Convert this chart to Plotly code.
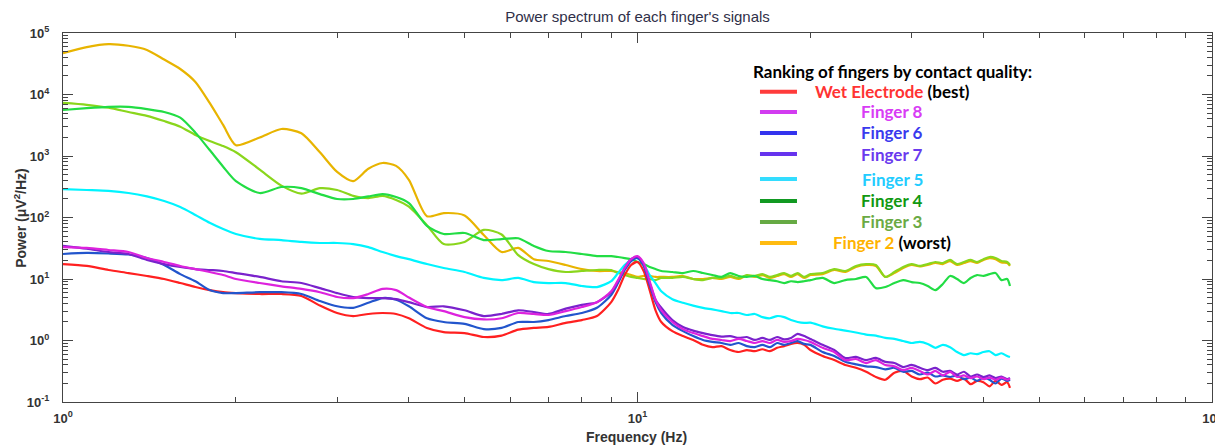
import plotly.graph_objects as go

# ---------------- data ----------------
freq = [1.0, 1.1, 1.2, 1.3, 1.4, 1.5, 1.6, 1.7, 1.8, 1.9, 2.0,
        2.2, 2.4, 2.6, 2.8, 3.0, 3.2, 3.4, 3.6, 3.8, 4.0,
        4.3, 4.6, 5.0, 5.4, 5.8, 6.2, 6.6, 7.0, 7.5, 8.0, 8.5, 9.0,
        9.25, 9.5, 9.75, 10.0, 10.25, 10.5, 10.75,
        11.0, 11.5, 12.0, 12.5, 13.0, 13.5, 14.0, 14.5, 15.0, 15.5, 16.0, 16.5, 17.0, 17.5, 18.0, 18.5, 19.0, 19.5,
        20, 21, 22, 23, 24, 25, 26, 27, 28, 29, 30, 31, 32, 33, 34, 35, 36, 37, 38, 39, 40, 41, 42, 43, 44, 44.5]

wet_electrode = [17.5, 16.3, 14, 12.5, 11.2, 10, 8.6, 7.4, 6.6, 6.1, 5.9,
                 5.7, 5.7, 5.3, 3.7, 2.8, 2.5, 2.7, 2.8, 2.7, 2.3,
                 1.6, 1.37, 1.32, 1.14, 1.2, 1.5, 1.6, 1.66, 1.93, 2.15, 2.5, 4.2,
                 6.6, 11.6, 16.9, 18.9, 13.5, 6.6, 3.1,
                 2.0, 1.42, 1.18, 1.02, 0.85, 0.78, 0.81, 0.70, 0.65, 0.70, 0.67, 0.72, 0.67, 0.76, 0.81, 0.88, 0.91, 0.85,
                 0.70, 0.56, 0.48, 0.40, 0.36, 0.31, 0.255, 0.23, 0.30, 0.32, 0.26, 0.235, 0.25, 0.20, 0.23, 0.24, 0.22, 0.24, 0.195, 0.22, 0.21, 0.18, 0.22, 0.19, 0.21, 0.17]

finger_8 = [33, 32, 29.6, 27.5, 21.9, 18.9, 16.3, 14.5, 13, 11.6, 10,
            8.6, 7.6, 6.9, 6.1, 5.1, 4.9, 5.7, 6.9, 6.6, 5.0,
            3.5, 3.0, 2.4, 2.2, 2.3, 2.8, 2.7, 2.6, 3.0, 3.5, 4.2, 6.3,
            9.6, 15.1, 21, 23.6, 18.2, 9.2, 4.6,
            3.1, 2.0, 1.53, 1.32, 1.18, 1.06, 1.02, 0.98, 1.06, 0.98, 0.91, 0.98, 0.91, 1.02, 0.95, 0.98, 1.06, 1.02,
            0.95, 0.76, 0.65, 0.48, 0.50, 0.43, 0.48, 0.40, 0.38, 0.33, 0.36, 0.32, 0.28, 0.32, 0.27, 0.31, 0.255, 0.27, 0.245, 0.26, 0.235, 0.25, 0.23, 0.25, 0.23, 0.24]

finger_6 = [25.5, 26.5, 26, 25, 22, 16.9, 12, 9.2, 6.6, 5.9, 5.9,
            6.1, 6.1, 5.7, 4.4, 3.6, 3.4, 4.1, 4.9, 4.6, 3.6,
            2.3, 2.0, 1.86, 1.53, 1.6, 2.0, 2.0, 2.15, 2.5, 2.8, 3.4, 5.5,
            8.6, 14, 19.6, 21.9, 16.3, 8.0, 4.2,
            2.8, 1.79, 1.42, 1.18, 1.02, 0.95, 0.91, 0.85, 0.91, 0.81, 0.78, 0.85, 0.78, 0.91, 0.85, 0.91, 0.98, 0.88,
            0.85, 0.65, 0.56, 0.45, 0.41, 0.38, 0.37, 0.34, 0.36, 0.31, 0.32, 0.28, 0.30, 0.26, 0.27, 0.255, 0.27, 0.235, 0.25, 0.22, 0.25, 0.23, 0.20, 0.24, 0.22, 0.23]

finger_7 = [34.6, 31, 27.5, 25.5, 20.4, 17.5, 15.7, 14.5, 14, 13.5, 12.5,
            10.8, 9.2, 8.6, 7.1, 5.9, 5.1, 4.9, 4.9, 4.7, 4.2,
            3.5, 3.6, 3.1, 2.5, 2.7, 3.1, 2.9, 2.7, 3.3, 3.8, 4.2, 6.1,
            9.2, 15.1, 21, 22.8, 17.5, 8.6, 4.6,
            3.4, 2.15, 1.66, 1.45, 1.32, 1.22, 1.16, 1.18, 1.1, 1.14, 1.02, 1.1, 1.02, 1.14, 1.04, 1.1, 1.28, 1.18,
            1.06, 0.85, 0.70, 0.52, 0.54, 0.48, 0.52, 0.45, 0.43, 0.37, 0.40, 0.36, 0.33, 0.36, 0.31, 0.32, 0.28, 0.31, 0.26, 0.28, 0.255, 0.27, 0.245, 0.26, 0.235, 0.245]

finger_5 = [290, 280, 270, 250, 220, 185, 148, 110, 82, 65, 54,
            45, 43, 40, 38.5, 38.5, 37, 33, 27.5, 23.6, 21,
            17.5, 15.1, 13, 10.4, 9.6, 10.4, 8.9, 8.6, 8.6, 7.7, 7.4, 9.2,
            12.5, 16.9, 20.4, 21.9, 17.5, 11.6, 8.6,
            6.3, 4.7, 4.1, 3.7, 3.4, 3.2, 3.0, 2.8, 2.8, 2.6, 2.7, 2.4, 2.3, 2.5, 2.4, 2.15, 2.0, 1.93,
            1.95, 1.7, 1.55, 1.45, 1.35, 1.25, 1.2, 1.1, 1.06, 0.98, 0.91, 0.95, 0.88, 0.76, 0.85, 0.78, 0.65, 0.58, 0.62, 0.60, 0.65, 0.67, 0.58, 0.62, 0.56, 0.54]

finger_4 = [5600, 6000, 6300, 6300, 5800, 5200, 4200, 2400, 1250, 670, 390,
            250, 313, 300, 240, 200, 200, 220, 240, 215, 172,
            73, 54, 56, 43, 44.5, 46, 34.5, 28.5, 27.5, 25.5, 23.6, 23.6,
            22.8, 21.9, 21, 18.9, 17.5, 15.7, 14.5,
            13.5, 13, 12.5, 13.5, 12.5, 11.6, 10.8, 12.5, 11.2, 10.8, 11.2, 10, 9.6, 9.2, 8.6, 9.2, 8.9, 9.2,
            9.6, 10.4, 8.6, 9.6, 10, 10.8, 7.1, 7.4, 8.6, 9.6, 8.9, 8.6, 7.7, 6.6, 8.3, 11.2, 10, 8.6, 10.4, 11.6, 11.2, 12, 12.5, 9.6, 10, 7.7]

finger_3 = [7300, 6800, 6100, 5200, 4500, 3700, 3000, 2200, 1750, 1450, 1150,
            600, 330, 245, 300, 280, 225, 207, 225, 193, 150,
            75, 37, 40, 63, 53, 24.5, 17.5, 14.5, 13, 13.5, 14, 14,
            12.5, 11.6, 10.8, 10.4, 10, 10, 9.6,
            10.4, 10.4, 10.8, 10, 9.6, 10.4, 10.4, 11.2, 10.4, 11.6, 11.2, 12, 10.8, 11.6, 12.5, 11.2, 12.5, 10.8,
            12, 12.5, 14.5, 13.5, 16.3, 17.5, 16.9, 10.8, 13, 15.7, 17.5, 16.3, 17.5, 18.9, 18.2, 20.4, 17.5, 18.9, 20.4, 18.9, 21, 22.8, 22, 19.6, 18.9, 16.9]

finger_2 = [47000, 59000, 66000, 62000, 53000, 37000, 26000, 16000, 7300, 3200, 1500,
            2000, 2750, 2350, 1150, 550, 390, 620, 770, 690, 410,
            105, 118, 108, 52, 27.5, 32, 21, 19.6, 16.9, 14.5, 13.5, 13.5,
            13, 12.5, 11.6, 10.8, 11.2, 11.2, 10.8,
            10.8, 10.8, 11.2, 10.0, 10.0, 10.4, 10.0, 10.8, 10.0, 11.4, 10.8, 11.6, 10.4, 11.2, 12.0, 10.8, 12.0, 10.4,
            11.6, 12.0, 14.0, 13.0, 15.7, 16.9, 16.3, 10.8, 12.5, 15.1, 16.9, 16.0, 16.9, 18.2, 17.5, 19.6, 16.9, 18.2, 19.6, 18.2, 20.4, 21.9, 21.0, 18.5, 18.2, 16.3]

# drawing order (back to front), plot colour
series = [
    ("Finger 2", finger_2, "#e8b400"),
    ("Finger 3", finger_3, "#8ad61c"),
    ("Finger 4", finger_4, "#22dd44"),
    ("Finger 5", finger_5, "#00f4ff"),
    ("Wet Electrode", wet_electrode, "#ff2020"),
    ("Finger 6", finger_6, "#2255cc"),
    ("Finger 7", finger_7, "#7a22cc"),
    ("Finger 8", finger_8, "#dd22dd"),
]

# legend (custom, as in the original figure)
legend_title = "Ranking of fingers by contact quality:"
legend_labels = ["Wet Electrode", "Finger 8", "Finger 6", "Finger 7",
                 "Finger 5", "Finger 4", "Finger 3", "Finger 2"]
legend_suffix = [" (best)", "", "", "", "", "", "", " (worst)"]
legend_line_colors = ["#ff3b3b", "#d23cf0", "#3333ee", "#6633ee",
                      "#33ddff", "#119922", "#66aa44", "#ffbb11"]
legend_text_colors = ["#ff3333", "#d83cf5", "#3a3aee", "#6a3aee",
                      "#22ccff", "#119911", "#6aaa44", "#ffb300"]

x_ticks = [1, 10, 100]
x_ticktext = ["10<sup>0</sup>", "10<sup>1</sup>", "10<sup>2</sup>"]
y_ticks = [0.1, 1, 10, 100, 1000, 10000, 100000]
y_ticktext = ["10<sup>-1</sup>", "10<sup>0</sup>", "10<sup>1</sup>", "10<sup>2</sup>",
              "10<sup>3</sup>", "10<sup>4</sup>", "10<sup>5</sup>"]

x_minor = [m * 10 ** k for k in range(0, 2) for m in range(2, 10)]
y_minor = [m * 10 ** k for k in range(-1, 5) for m in range(2, 10)]

# ---------------- figure ----------------
# the page body has an 8px margin, so the figure is 8px smaller and margins shifted
W, H, OFF = 1223 - 8, 445 - 8, 8

fig = go.Figure()
for name, vals, col in series:
    fig.add_trace(go.Scatter(x=freq, y=vals, mode="lines", name=name,
                             line=dict(color=col, width=2.2, shape="spline", smoothing=0.7),
                             showlegend=False))

axis_font = dict(family="Liberation Sans, Arial", size=13, color="#333333", weight="bold")
fig.update_xaxes(type="log", range=[0, 2], tickvals=x_ticks, ticktext=x_ticktext,
                 ticks="inside", ticklen=10, tickcolor="#444", tickwidth=1,
                 showline=True, linecolor="#444", linewidth=1, mirror="allticks",
                 showgrid=False, zeroline=False, tickfont=axis_font, ticklabelstandoff=4,
                 ticklabeloverflow="allow", automargin=False,
                 minor=dict(ticks="inside", ticklen=5, tickvals=x_minor, tickcolor="#444", showgrid=False))
fig.update_yaxes(type="log", range=[-1, 5], tickvals=y_ticks, ticktext=y_ticktext,
                 ticks="inside", ticklen=10, tickcolor="#444", tickwidth=1,
                 showline=True, linecolor="#444", linewidth=1, mirror="allticks",
                 showgrid=False, zeroline=False, tickfont=axis_font, ticklabelstandoff=10,
                 ticklabeloverflow="allow", automargin=False,
                 minor=dict(ticks="inside", ticklen=5, tickvals=y_minor, tickcolor="#444", showgrid=False))

fig.update_layout(
    width=W, height=H,
    margin=dict(l=63 - OFF, r=11, t=33 - OFF, b=43, autoexpand=False),
    paper_bgcolor="white", plot_bgcolor="white",
    showlegend=False,
    title=dict(text="Power spectrum of each finger's signals", x=0.5, xref="paper",
               y=1 - (17 - OFF) / H, yanchor="middle",
               font=dict(family="Liberation Sans, Arial", size=15, color="#2f2f48")),
)

# axis titles
fig.add_annotation(text="<b>Frequency (Hz)</b>", xref="paper", yref="paper",
                   x=0.4987, y=-0.095, showarrow=False, xanchor="center", yanchor="middle",
                   font=dict(family="Liberation Sans, Arial", size=14, color="#333333"))
fig.add_annotation(text="<b>Power (μV<sup>2</sup>/Hz)</b>", xref="paper", yref="paper",
                   x=-0.038, y=0.5, showarrow=False, textangle=-90, xanchor="center", yanchor="middle",
                   font=dict(family="Liberation Sans, Arial", size=14, color="#333333"))

# custom legend
leg_font = dict(family="Lato, Open Sans, sans-serif", size=17, color="black")
fig.add_annotation(text="<b>" + legend_title + "</b>", xref="paper", yref="paper",
                   x=0.7215, y=0.897, showarrow=False, xanchor="center", yanchor="middle", font=leg_font)
row_y = [0.841, 0.786, 0.729, 0.672, 0.604, 0.545, 0.488, 0.431]
for lab, suf, lc, tc, yy in zip(legend_labels, legend_suffix, legend_line_colors, legend_text_colors, row_y):
    fig.add_shape(type="line", xref="paper", yref="paper", x0=0.6066, x1=0.6388, y0=yy, y1=yy,
                  line=dict(color=lc, width=4))
    txt = "<b><span style='color:%s'>%s</span>%s</b>" % (tc, lab, suf)
    fig.add_annotation(text=txt, xref="paper", yref="paper", x=0.7215, y=yy, showarrow=False,
                       xanchor="center", yanchor="middle", font=leg_font)

fig.write_html("out.html")
